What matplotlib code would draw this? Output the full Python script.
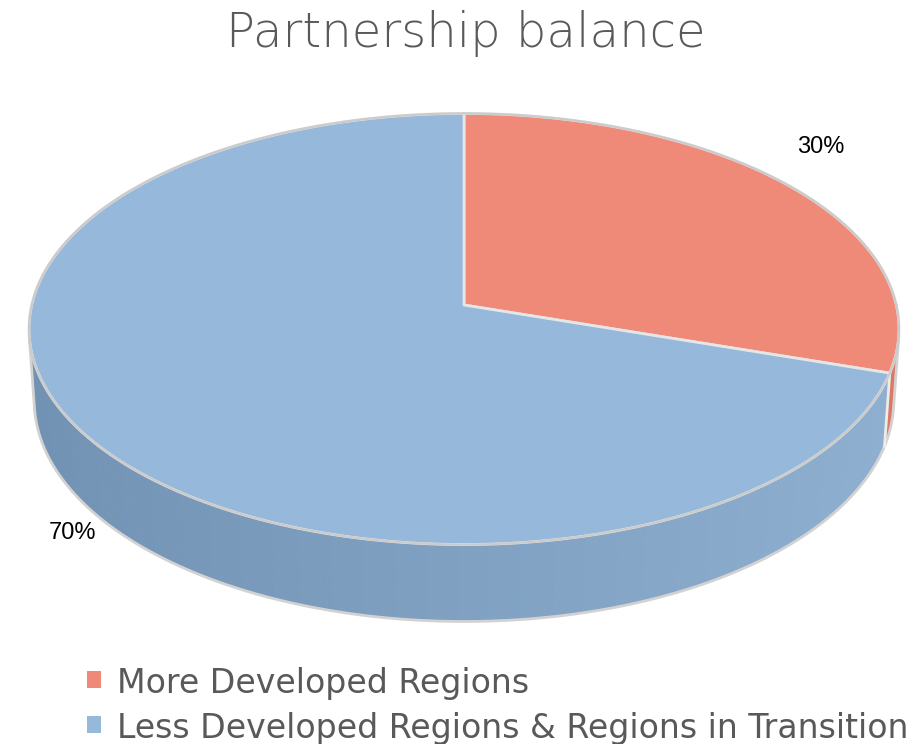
import numpy as np
import matplotlib
matplotlib.use("Agg")
import matplotlib.pyplot as plt
from matplotlib.patches import Polygon, Rectangle

# data
labels = ["More Developed Regions", "Less Developed Regions & Regions in Transition"]
values = [30, 70]
top_colors = ["#f08a78", "#95b8db"]
side_dark = [(0.80, 0.42, 0.36), (0.44, 0.57, 0.70)]
side_light = [(0.86, 0.47, 0.40), (0.56, 0.69, 0.82)]
label_offsets = [(28, -35), (-22, 26)]  # px, from slice mid point on the rim

title = "Partnership balance"
text_grey = "#595959"

# 3d view (pie radius = 1)
elev = np.radians(29.5)
dist = 7.83
height = 0.192
scale = 3385
ox, oy = 464, 305  # screen position of pie centre
start = 90.0

fig = plt.figure(figsize=(9.16, 7.44), dpi=100)
ax = fig.add_axes([0, 0, 1, 1])
ax.set_xlim(0, 916)
ax.set_ylim(744, 0)
ax.axis("off")

ce, se = np.cos(elev), np.sin(elev)


def proj(t, z=0.0):
    r = np.radians(t)
    X, Y = np.cos(r), np.sin(r)
    d = ce * Y + dist - se * z
    return ox + scale * X / d, oy - scale * (se * Y + ce * z) / d


# slice angle ranges (clockwise from top)
fracs = np.array(values) / sum(values)
bounds = []
a = start
for f in fracs:
    bounds.append((a, a - 360 * f))
    a -= 360 * f


def slice_at(t):
    for i, (a0, a1) in enumerate(bounds):
        tt = t
        while tt > a0:
            tt -= 360
        while tt < a1:
            tt += 360
        if a1 <= tt <= a0:
            return i
    return len(bounds) - 1


# visible part of the side wall
lim = np.degrees(np.arcsin(-1 / (dist * ce)))
t_lo, t_hi = 180 - lim, 360 + lim
ts = np.linspace(t_lo, t_hi, 400)
for k in range(len(ts) - 1):
    t0, t1 = ts[k], ts[k + 1]
    tm = (t0 + t1) / 2
    i = slice_at(tm)
    w = (np.cos(np.radians(tm)) + 1) / 2
    c = tuple(side_dark[i][j] * (1 - w) + side_light[i][j] * w for j in range(3))
    quad = [proj(t0), proj(t1), proj(t1, -height), proj(t0, -height)]
    ax.add_patch(Polygon(quad, closed=True, facecolor=c, edgecolor=c, lw=0.6))

# wall outline
bot = np.array([proj(t, -height) for t in ts])
ax.plot(bot[:, 0], bot[:, 1], color="#d2d2d2", lw=2, solid_capstyle="round")
for t in (t_lo, t_hi):
    p, q = proj(t), proj(t, -height)
    ax.plot([p[0], q[0]], [p[1], q[1]], color="#d2d2d2", lw=2)
for a0, a1 in bounds:
    tb = a1 % 360
    if t_lo < tb < t_hi:
        p, q = proj(tb), proj(tb, -height)
        ax.plot([p[0], q[0]], [p[1], q[1]], color="#ececec", lw=2)

# top wedges
for i, (a0, a1) in enumerate(bounds):
    arc = [proj(t) for t in np.linspace(a0, a1, 240)]
    poly = [(ox, oy)] + arc
    ax.add_patch(Polygon(poly, closed=True, facecolor=top_colors[i],
                         edgecolor="#e6e6e6", lw=2, joinstyle="round"))

rim = np.array([proj(t) for t in np.linspace(0, 360, 721)])
ax.plot(rim[:, 0], rim[:, 1], color="#cbcbcb", lw=1.6)

# percentage labels
for i, (a0, a1) in enumerate(bounds):
    tm = (a0 + a1) / 2
    z = -height if np.sin(np.radians(tm)) < 0 else 0.0
    px, py = proj(tm, z)
    dx, dy = label_offsets[i]
    ax.text(px + dx, py + dy, f"{values[i]}%", fontsize=17, family="Liberation Sans",
            color="black", ha="center", va="baseline")

# title
ax.text(466, 47, title, fontsize=34.7, family="DejaVu Sans", fontweight="light",
        color=text_grey, ha="center", va="baseline")

# legend
for i, lab in enumerate(labels):
    yb = 693 + i * 45
    ax.add_patch(Rectangle((87, yb - 22), 14, 17, facecolor=top_colors[i], edgecolor="none"))
    ax.text(117, yb, lab, fontsize=23.9, family="DejaVu Sans", color=text_grey,
            ha="left", va="baseline")

fig.savefig("out.png", dpi=100)
